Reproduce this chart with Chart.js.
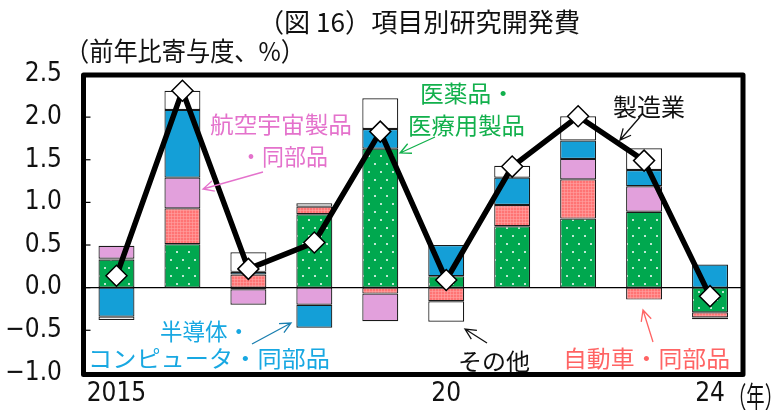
<!DOCTYPE html>
<html lang="ja">
<head>
<meta charset="utf-8">
<script src="https://cdn.jsdelivr.net/npm/chart.js@4/dist/chart.umd.min.js"></script>
<style>
  html, body { margin: 0; padding: 0; background: #fff; }
  #wrap { width: 783px; height: 410px; }
</style>
</head>
<body>
<div id="wrap"><canvas id="c" width="783" height="410"></canvas></div>
<script>
// 項目別研究開発費（前年比寄与度、%）
const years = ['2015', '2016', '2017', '2018', '2019', '2020', '2021', '2022', '2023', '2024'];
const yearTicks = ['2015', '', '', '', '', '20', '', '', '', '24'];

const pharma   = [0.33, 0.51, -0.02, 0.86, 1.63, 0.135, 0.72, 0.81, 0.89, -0.29];  // 医薬品・医療用製品
const auto     = [0.01, 0.42, 0.155, 0.09, -0.07, -0.16, 0.25, 0.46, -0.14, -0.06]; // 自動車・同部品
const aero     = [0.15, 0.36, -0.18, -0.20, -0.325, 0, 0, 0.24, 0.30, 0];          // 航空宇宙製品・同部品
const semi     = [-0.34, 0.795, 0.03, -0.27, 0.23, 0.365, 0.32, 0.215, 0.19, 0.27]; // 半導体・コンピュータ・同部品
const other    = [-0.04, 0.225, 0.23, 0.04, 0.36, -0.24, 0.14, 0.285, 0.255, -0.02]; // その他
const manufact = [0.14, 2.31, 0.22, 0.53, 1.83, 0.09, 1.42, 2.01, 1.49, -0.10];      // 製造業

const yMin = -1.0, yMax = 2.5, yStep = 0.5;

const CJK = "'Noto Sans CJK JP', 'Noto Sans', sans-serif";
const NUM = "'Liberation Sans Narrow', 'DejaVu Sans Condensed', 'Noto Sans CJK JP', sans-serif";

// fill patterns
function dotPattern() {
  const p = document.createElement('canvas');
  p.width = 12; p.height = 16;
  const g = p.getContext('2d');
  g.fillStyle = '#00a84f';
  g.fillRect(0, 0, 12, 16);
  g.fillStyle = '#ffffff';
  g.beginPath(); g.arc(3, 4, 1, 0, Math.PI * 2); g.fill();
  g.beginPath(); g.arc(9, 12, 1, 0, Math.PI * 2); g.fill();
  return g.createPattern(p, 'repeat');
}
function gridPattern() {
  const p = document.createElement('canvas');
  p.width = 3; p.height = 3;
  const g = p.getContext('2d');
  g.fillStyle = '#ff7474';
  g.fillRect(0, 0, 3, 3);
  g.fillStyle = 'rgba(255,165,165,0.55)';
  g.fillRect(0, 0, 3, 1);
  g.fillRect(0, 0, 1, 3);
  return g.createPattern(p, 'repeat');
}

const ctx0 = document.getElementById('c').getContext('2d');

function barSet(label, data, fill) {
  return {
    type: 'bar', label, data,
    backgroundColor: fill,
    borderColor: '#1a1a1a',
    borderWidth: 1.2,
    borderSkipped: false,
    stack: 's',
    order: 2,
    barPercentage: 0.545,
    categoryPercentage: 1.0
  };
}

function fitText(ctx, text, left, right, cy, size, color, family) {
  ctx.save();
  ctx.font = size + 'px ' + (family || CJK);
  ctx.fillStyle = color;
  ctx.textBaseline = 'middle';
  ctx.textAlign = 'left';
  const w = ctx.measureText(text).width;
  ctx.translate(left, cy);
  ctx.scale((right - left) / w, 1);
  ctx.fillText(text, 0, 0);
  ctx.restore();
}

function arrow(ctx, x1, y1, x2, y2, color) {
  ctx.save();
  ctx.strokeStyle = color;
  ctx.lineWidth = 1.3;
  ctx.beginPath();
  ctx.moveTo(x1, y1); ctx.lineTo(x2, y2);
  const a = Math.atan2(y1 - y2, x1 - x2);
  const L = 12, sp = 0.45;
  ctx.moveTo(x2 + L * Math.cos(a + sp), y2 + L * Math.sin(a + sp));
  ctx.lineTo(x2, y2);
  ctx.lineTo(x2 + L * Math.cos(a - sp), y2 + L * Math.sin(a - sp));
  ctx.stroke();
  ctx.restore();
}

const frame = {
  id: 'frame',
  beforeDatasetsDraw(chart) {
    const { ctx, chartArea: a, scales: { y } } = chart;
    const y0 = y.getPixelForValue(0);
    ctx.save();
    ctx.strokeStyle = '#000';
    ctx.lineWidth = 1.2;
    ctx.beginPath();
    ctx.moveTo(a.left, y0); ctx.lineTo(a.right, y0);
    ctx.stroke();
    ctx.restore();
  },
  afterDraw(chart) {
    const { ctx, chartArea: a, scales: { y } } = chart;
    ctx.save();
    // inward tick marks on the value axis
    ctx.strokeStyle = '#000';
    ctx.lineWidth = 1.2;
    y.ticks.forEach(t => {
      const py = y.getPixelForValue(t.value);
      ctx.beginPath();
      ctx.moveTo(a.left, py); ctx.lineTo(a.left + 7, py);
      ctx.stroke();
    });
    // heavy frame
    ctx.lineWidth = 5;
    ctx.lineJoin = 'round';
    ctx.strokeRect(a.left, a.top + 0.5, a.right - a.left, a.bottom - a.top + 1);
    ctx.restore();

    // titles
    fitText(ctx, '（図 16）項目別研究開発費', 258, 580, 22, 26, '#111');
    fitText(ctx, '（前年比寄与度、%）', 65, 305, 51, 26, '#111');

    // year unit after the last tick label
    fitText(ctx, '（年）', 728, 783, 397, 29, '#111');

    // series labels
    const pink = '#e472cc', green = '#12b04c', blue = '#18a8e2', red = '#ff6464', black = '#111';
    fitText(ctx, '航空宇宙製品', 210, 352, 124, 23, pink);
    fitText(ctx, '・同部品', 240, 328, 156, 23, pink);
    arrow(ctx, 263, 172, 203, 189, pink);

    fitText(ctx, '医薬品・', 420, 515, 93, 23, green);
    fitText(ctx, '医療用製品', 408, 525, 125, 23, green);
    arrow(ctx, 435, 137, 400, 153, green);

    fitText(ctx, '製造業', 613, 685, 107, 24, black);
    arrow(ctx, 640, 117, 620, 140, black);

    fitText(ctx, '半導体・', 160, 250, 331, 23, blue);
    fitText(ctx, 'コンピュータ・同部品', 88, 330, 358, 23, blue);
    arrow(ctx, 252, 344, 291, 323, '#1a7fb0');

    fitText(ctx, 'その他', 458, 530, 361, 23, black);
    arrow(ctx, 487, 343, 465, 329, black);

    fitText(ctx, '自動車・同部品', 563, 730, 358, 23, red);
    arrow(ctx, 653, 342, 643, 310, red);
  }
};

new Chart(ctx0, {
  data: {
    labels: years,
    datasets: [
      barSet('医薬品・医療用製品', pharma, dotPattern()),
      barSet('自動車・同部品', auto, gridPattern()),
      barSet('航空宇宙製品・同部品', aero, '#e2a0dc'),
      barSet('半導体・コンピュータ・同部品', semi, '#149fd7'),
      barSet('その他', other, '#ffffff'),
      {
        type: 'line', label: '製造業', data: manufact,
        borderColor: '#000', borderWidth: 5.5,
        pointStyle: 'rectRot', pointRadius: 10.5,
        pointBackgroundColor: '#fff', pointBorderColor: '#000', pointBorderWidth: 1.5,
        tension: 0, order: 0
      }
    ]
  },
  options: {
    responsive: false,
    animation: false,
    events: [],
    layout: { padding: { top: 74.5, right: 40, bottom: 0, left: 0 } },
    plugins: { legend: { display: false }, tooltip: { enabled: false }, title: { display: false } },
    scales: {
      x: {
        type: 'category',
        offset: true,
        stacked: true,
        grid: { display: false, drawTicks: false },
        border: { display: false },
        ticks: {
          autoSkip: false, maxRotation: 0, padding: 6,
          color: '#111', font: { family: NUM, size: 26 },
          callback: (v, i) => yearTicks[i]
        },
        afterFit(s) { s.height = 33.5; }
      },
      y: {
        stacked: true,
        min: yMin, max: yMax,
        grid: { display: false, drawTicks: false },
        border: { display: false },
        ticks: {
          stepSize: yStep, padding: 21.5,
          color: '#111', font: { family: NUM, size: 26 },
          callback: v => (v < -1e-9 ? '−' : '') + Math.abs(v).toFixed(1)
        },
        afterFit(s) { s.width = 83.5; }
      }
    }
  },
  plugins: [frame]
});
</script>
</body>
</html>
